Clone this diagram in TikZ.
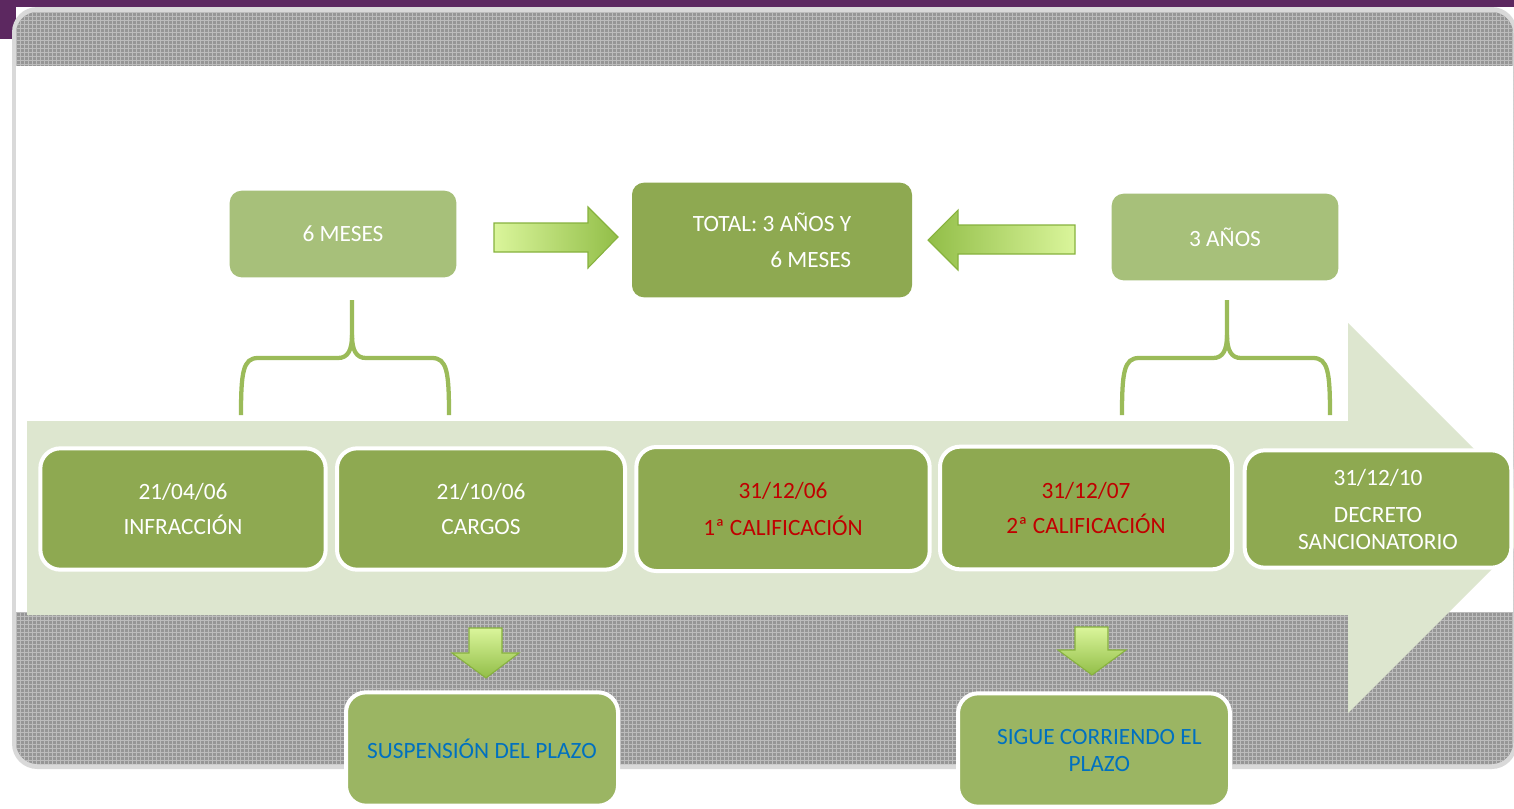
\documentclass[tikz,border=0pt]{standalone}
\usepackage{fontspec}
\setmainfont{Carlito}
\usetikzlibrary{patterns}

\definecolor{purpleband}{RGB}{92,40,96}
\definecolor{framegray}{RGB}{217,217,217}
\definecolor{texgray}{RGB}{150,150,150}
\definecolor{texlight}{RGB}{188,188,188}
\definecolor{paleband}{RGB}{221,230,207}
\definecolor{dateolive}{RGB}{142,169,81}
\definecolor{softolive}{RGB}{167,192,122}
\definecolor{lowgreen}{RGB}{155,181,99}
\definecolor{bracegreen}{RGB}{155,187,89}
\definecolor{arrowlight}{RGB}{218,245,155}
\definecolor{arrowdark}{RGB}{146,190,72}
\definecolor{arrowline}{RGB}{135,178,62}
\definecolor{datered}{RGB}{192,0,0}
\definecolor{textblue}{RGB}{0,112,192}

\begin{document}
\begin{tikzpicture}[x=0.75pt,y=-0.75pt,
    txt/.style={font=\fontsize{17.5}{20.25}\selectfont, align=center, text=white, inner sep=0pt},
    datebox/.style={txt, fill=dateolive, draw=white, line width=3pt, rounded corners=15pt,
        minimum width=214pt, minimum height=91pt},
    topbox/.style={txt, fill=softolive, rounded corners=9pt, minimum width=170pt, minimum height=65pt},
    lowbox/.style={txt, fill=lowgreen, draw=white, line width=3pt, rounded corners=15pt,
        minimum width=204pt, minimum height=85pt, text=textblue},
    bracket/.style={draw=bracegreen, line width=3.2pt},
    blockarrow/.style={draw=arrowline, line width=0.8pt}]

    \useasboundingbox (0,0) rectangle (1514,808);
    \clip (0,0) rectangle (1514,808);

    % frame and textured bands
    \fill[purpleband] (0,0) rectangle (1514,7);
    \fill[purpleband] (0,0) rectangle (16,39);
    \fill[framegray, rounded corners=19pt] (12,7) rectangle (1517,769);
    \fill[texgray, rounded corners=16pt] (16,12) rectangle (1513,764);
    \fill[pattern=grid, pattern color=texlight, rounded corners=16pt] (16,12) rectangle (1513,764);
    \fill[white] (16,66) rectangle (1513,612);

    % big time arrow
    \coordinate (T1) at (27,421);
    \coordinate (T2) at (1348,421);
    \coordinate (T3) at (1348,323);
    \coordinate (T4) at (1543,518);
    \coordinate (T5) at (1348,713);
    \coordinate (T6) at (1348,615);
    \coordinate (T7) at (27,615);
    \fill[paleband] (T1) -- (T2) -- (T3) -- (T4) -- (T5) -- (T6) -- (T7) --cycle;

    % braces
    \draw[bracket] (241,415) .. controls (241,372) and (243,358) .. (258,358) -- (338,358)
        .. controls (348,358) and (352,350) .. (352,335) -- (352,300);
    \draw[bracket] (352,335) .. controls (352,350) and (356,358) .. (366,358) -- (432,358)
        .. controls (447,358) and (449,372) .. (449,415);
    \draw[bracket] (1122,415) .. controls (1122,372) and (1124,358) .. (1139,358) -- (1213,358)
        .. controls (1223,358) and (1227,350) .. (1227,335) -- (1227,300);
    \draw[bracket] (1227,335) .. controls (1227,350) and (1231,358) .. (1241,358) -- (1313,358)
        .. controls (1328,358) and (1330,372) .. (1330,415);

    % top boxes
    \node[topbox] (seis) at (343,234) {6 MESES};
    \node[topbox, fill=dateolive, minimum width=210pt, minimum height=86pt, align=right]
        (total) at (772,240) {TOTAL: 3 AÑOS Y\\[6.75pt]6 MESES};
    \node[topbox] (tres) at (1225,237) {3 AÑOS};

    % arrows towards the total
    \shadedraw[blockarrow, left color=arrowlight, right color=arrowdark]
        (494,223) -- (588,223) -- (588,207) -- (618,237) -- (588,268) -- (588,252) -- (494,252) --cycle;
    \shadedraw[blockarrow, left color=arrowdark, right color=arrowlight]
        (1075,225) -- (958,225) -- (958,210) -- (928,240) -- (958,270) -- (958,254) -- (1075,254) --cycle;

    % dates
    \node[datebox] (f1) at (183,509) {21/04/06\\[6pt]INFRACCIÓN};
    \node[datebox, minimum width=216pt] (f2) at (481,509) {21/10/06\\[6pt]CARGOS};
    \node[datebox, minimum width=220pt, minimum height=93pt, text=datered]
        (f3) at (783,509) {31/12/06\\[7.5pt]1ª CALIFICACIÓN};
    \node[datebox, minimum width=219pt, minimum height=92pt, text=datered]
        (f4) at (1086,508) {31/12/07\\[6pt]2ª CALIFICACIÓN};
    \node[datebox, minimum width=200pt, minimum height=88pt]
        (f5) at (1378,509) {31/12/10\\[7.5pt]DECRETO\\SANCIONATORIO};

    % arrows down
    \shadedraw[blockarrow, top color=arrowlight, bottom color=arrowdark]
        (469,628) -- (502,628) -- (502,653) -- (519,653) -- (486,678) -- (452,653) -- (469,653) --cycle;
    \shadedraw[blockarrow, top color=arrowlight, bottom color=arrowdark]
        (1075,627) -- (1108,627) -- (1108,650) -- (1126,650) -- (1092,675) -- (1058,650) -- (1075,650) --cycle;

    % results
    \node[lowbox] (susp) at (482,749) {SUSPENSIÓN DEL PLAZO};
    \node[lowbox] (sigue) at (1094,750) {\hspace*{8pt}SIGUE CORRIENDO EL\\\hspace*{8pt}PLAZO};
\end{tikzpicture}
\end{document}
